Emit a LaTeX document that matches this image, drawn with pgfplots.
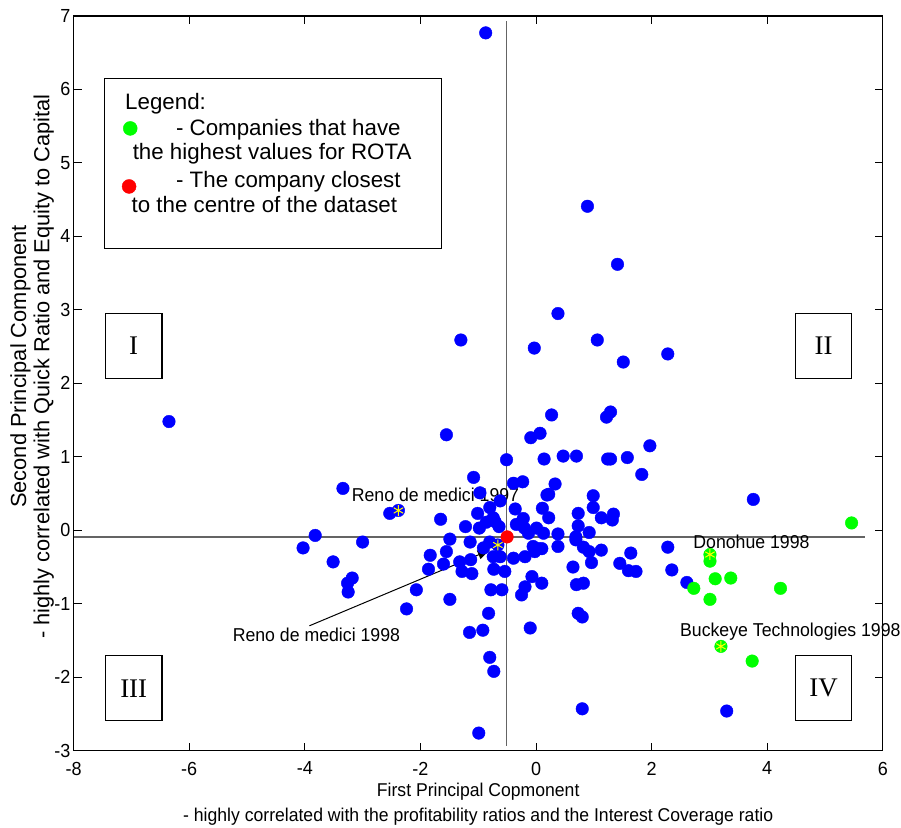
\documentclass[border=0pt]{standalone}
\usepackage{pgfplots}
\pgfplotsset{compat=1.18}
\usepackage{pgfplotstable}
\usetikzlibrary{arrows.meta}
\usepackage{fontspec}
\setmainfont{Liberation Sans}[FakeStretch=0.95]
\newfontfamily\legfont{Liberation Sans}
\newfontfamily\romfont{Liberation Serif}
\definecolor{cline}{RGB}{100,100,100}
\definecolor{mblue}{RGB}{0,0,255}
\definecolor{mgreen}{RGB}{0,255,0}
\definecolor{mred}{RGB}{255,0,0}
\definecolor{myellow}{RGB}{255,255,0}

\pgfplotstableread{
x y
-0.87 6.77
0.89 4.41
1.41 3.62
0.38 2.95
-1.30 2.59
-0.03 2.48
1.06 2.59
1.51 2.29
2.28 2.40
-6.35 1.48
-1.55 1.30
0.27 1.57
1.22 1.54
1.29 1.61
-0.09 1.26
0.07 1.32
1.97 1.15
-0.51 0.96
0.14 0.97
0.47 1.01
0.70 1.01
1.24 0.97
1.29 0.97
1.58 0.99
1.83 0.76
-1.08 0.72
-0.39 0.64
-0.23 0.66
0.33 0.63
0.19 0.48
0.22 0.49
0.99 0.47
0.99 0.31
-0.97 0.51
-0.80 0.31
-0.62 0.40
-0.36 0.29
0.11 0.30
-3.34 0.57
-2.53 0.23
-2.38 0.27
-1.65 0.15
-1.01 0.23
-0.74 0.17
-0.71 0.12
-0.86 0.11
-0.22 0.16
-0.34 0.08
-0.20 0.03
0.22 0.17
0.73 0.23
0.73 0.06
1.13 0.17
1.34 0.22
1.32 0.14
-1.22 0.05
-0.98 0.03
-0.64 0.05
0.01 0.03
0.13 -0.04
0.38 -0.05
0.69 -0.09
0.92 -0.03
-0.13 -0.04
-1.49 -0.12
-1.14 -0.16
-0.80 -0.16
-0.91 -0.24
-0.66 -0.20
-0.05 -0.22
0.04 -0.25
-0.02 -0.29
0.10 -0.25
0.38 -0.22
0.69 -0.13
0.82 -0.23
0.92 -0.29
1.13 -0.27
-1.55 -0.29
-1.83 -0.34
-1.86 -0.53
-1.60 -0.46
-1.32 -0.43
-1.13 -0.40
-1.28 -0.56
-1.11 -0.59
-0.74 -0.36
-0.62 -0.36
-0.39 -0.38
-0.19 -0.36
-0.73 -0.53
-0.54 -0.56
-0.07 -0.63
0.10 -0.72
-0.19 -0.77
-0.25 -0.88
-0.78 -0.81
-0.59 -0.81
-2.07 -0.81
-2.24 -1.07
-1.49 -0.94
-0.82 -1.13
-0.10 -1.33
-1.15 -1.39
-0.92 -1.36
-0.80 -1.73
-0.73 -1.92
0.80 -2.43
-0.99 -2.76
0.64 -0.50
0.96 -0.44
1.45 -0.45
1.64 -0.31
1.60 -0.55
1.73 -0.56
2.28 -0.23
2.35 -0.54
2.61 -0.71
0.70 -0.74
0.82 -0.72
0.73 -1.13
0.80 -1.18
3.76 0.42
3.30 -2.46
-3.82 -0.07
-4.03 -0.24
-3.00 -0.16
-3.51 -0.43
-3.18 -0.65
-3.26 -0.72
-3.25 -0.84
}\bluedata

\pgfplotstableread{
x y
5.46 0.10
3.01 -0.33
3.01 -0.42
3.10 -0.66
3.37 -0.65
2.73 -0.79
3.01 -0.94
4.23 -0.79
3.20 -1.58
3.74 -1.78
}\greendata

\pgfplotstableread{
x y
-2.38 0.27
-0.66 -0.20
3.01 -0.33
3.20 -1.58
}\stardata

\begin{document}
\begin{tikzpicture}
\begin{axis}[
  scale only axis, width=809.2bp, height=734.7bp,
  xmin=-8, xmax=6, ymin=-3, ymax=7,
  xtick={-8,-6,-4,-2,0,2,4,6}, ytick={-3,-2,-1,0,1,2,3,4,5,6,7},
  tick align=inside, major tick length=8bp,
  axis line style={line width=1.1bp, black},
  tick style={line width=1bp, black},
  /pgf/number format/assume math mode=true,
  every tick label/.append style={font=\fontsize{19}{19}\selectfont},
  xticklabel style={inner sep=0pt, yshift=-11bp},
  yticklabel style={inner sep=0pt, xshift=-3bp},
  clip=false,
]
% centre lines
\addplot[cline, line width=1.4bp, forget plot] coordinates {(-8,-0.09) (5.69,-0.09)};
\addplot[cline, line width=1.4bp, forget plot] coordinates {(-0.51,-2.93) (-0.51,6.93)};

% data
\addplot[only marks, mark=*, mark size=6.3bp, mblue, mark options={draw=mblue, fill=mblue}] table[x=x,y=y] {\bluedata};
\addplot[only marks, mark=*, mark size=6.3bp, mgreen, mark options={draw=mgreen, fill=mgreen}] table[x=x,y=y] {\greendata};
\addplot[only marks, mark=*, mark size=6.3bp, mred, mark options={draw=mred, fill=mred}] coordinates {(-0.50,-0.09)};
\addplot[only marks, mark=asterisk, mark size=5.4bp, myellow, mark options={line width=1bp}] table[x=x,y=y] {\stardata};

% quadrant boxes
\draw[line width=1.1bp, black] (axis cs:-7.45,2.07) rectangle (axis cs:-6.47,2.95);
\node[font=\romfont\fontsize{27}{27}\selectfont] at (axis cs:-6.96,2.51) {I};
\draw[line width=1.1bp, black] (axis cs:4.49,2.07) rectangle (axis cs:5.46,2.95);
\node[font=\romfont\fontsize{27}{27}\selectfont] at (axis cs:4.975,2.51) {II};
\draw[line width=1.1bp, black] (axis cs:-7.45,-1.71) rectangle (axis cs:-6.47,-2.59);
\node[font=\romfont\fontsize{27}{27}\selectfont] at (axis cs:-6.96,-2.15) {III};
\draw[line width=1.1bp, black] (axis cs:4.49,-1.71) rectangle (axis cs:5.46,-2.59);
\node[font=\romfont\fontsize{27}{27}\selectfont] at (axis cs:4.975,-2.15) {IV};

% legend box
\draw[line width=1.1bp, black, fill=white] (axis cs:-7.46,3.83) rectangle (axis cs:-1.63,6.15);
\node[anchor=base west, inner sep=0pt, font=\legfont\fontsize{22.4}{22.4}\selectfont] at (axis cs:-7.11,5.73) {Legend:};
\node[anchor=base west, inner sep=0pt, font=\legfont\fontsize{22.4}{22.4}\selectfont] at (axis cs:-6.23,5.38) {- Companies that have};
\node[anchor=base west, inner sep=0pt, font=\legfont\fontsize{22.4}{22.4}\selectfont] at (axis cs:-6.98,5.04) {the highest values for ROTA};
\node[anchor=base west, inner sep=0pt, font=\legfont\fontsize{22.4}{22.4}\selectfont] at (axis cs:-6.23,4.67) {- The company closest};
\node[anchor=base west, inner sep=0pt, font=\legfont\fontsize{22.4}{22.4}\selectfont] at (axis cs:-7.00,4.33) {to the centre of the dataset};
\addplot[only marks, mark=*, mark size=7bp, mgreen, mark options={draw=mgreen, fill=mgreen}] coordinates {(-7.02,5.47)};
\addplot[only marks, mark=*, mark size=7bp, mred, mark options={draw=mred, fill=mred}] coordinates {(-7.04,4.68)};

% annotations
\node[anchor=base west, inner sep=0pt, font=\fontsize{18.7}{18.7}\selectfont] at (axis cs:-3.19,0.39) {Reno de medici 1997};
\node[anchor=base west, inner sep=0pt, font=\fontsize{18.7}{18.7}\selectfont] at (axis cs:-5.25,-1.52) {Reno de medici 1998};
\draw[line width=1bp, black, -{Triangle[length=12bp,width=9bp]}] (axis cs:-3.92,-1.30) -- (axis cs:-0.80,-0.27);
\node[anchor=base west, inner sep=0pt, font=\fontsize{18.7}{18.7}\selectfont] at (axis cs:2.72,-0.25) {Donohue 1998};
\node[anchor=base west, inner sep=0pt, font=\fontsize{18.7}{18.7}\selectfont] at (axis cs:2.49,-1.44) {Buckeye Technologies 1998};

% axis labels
\node[anchor=base, inner sep=0pt, font=\fontsize{18.6}{18.6}\selectfont] at (rel axis cs:0.5,-0.0630) {First Principal Copmonent};
\node[anchor=base, inner sep=0pt, font=\fontsize{18.6}{18.6}\selectfont] at (rel axis cs:0.5,-0.0957) {- highly correlated with the profitability ratios and the Interest Coverage ratio};
\node[anchor=base, rotate=90, inner sep=0pt, font=\legfont\fontsize{21.9}{21.9}\selectfont] at (rel axis cs:-0.0588,0.523) {Second Principal Component};
\node[anchor=base, rotate=90, inner sep=0pt, font=\legfont\fontsize{21.9}{21.9}\selectfont] at (rel axis cs:-0.0300,0.523) {- highly correlated with Quick Ratio and Equity to Capital};

\coordinate (bbSW) at (rel axis cs:-0.09096,-0.10521);
\coordinate (bbNE) at (rel axis cs:1.02249,1.02178);
\end{axis}
\pgfresetboundingbox
\path[use as bounding box] (bbSW) rectangle (bbNE);
\end{tikzpicture}
\end{document}
